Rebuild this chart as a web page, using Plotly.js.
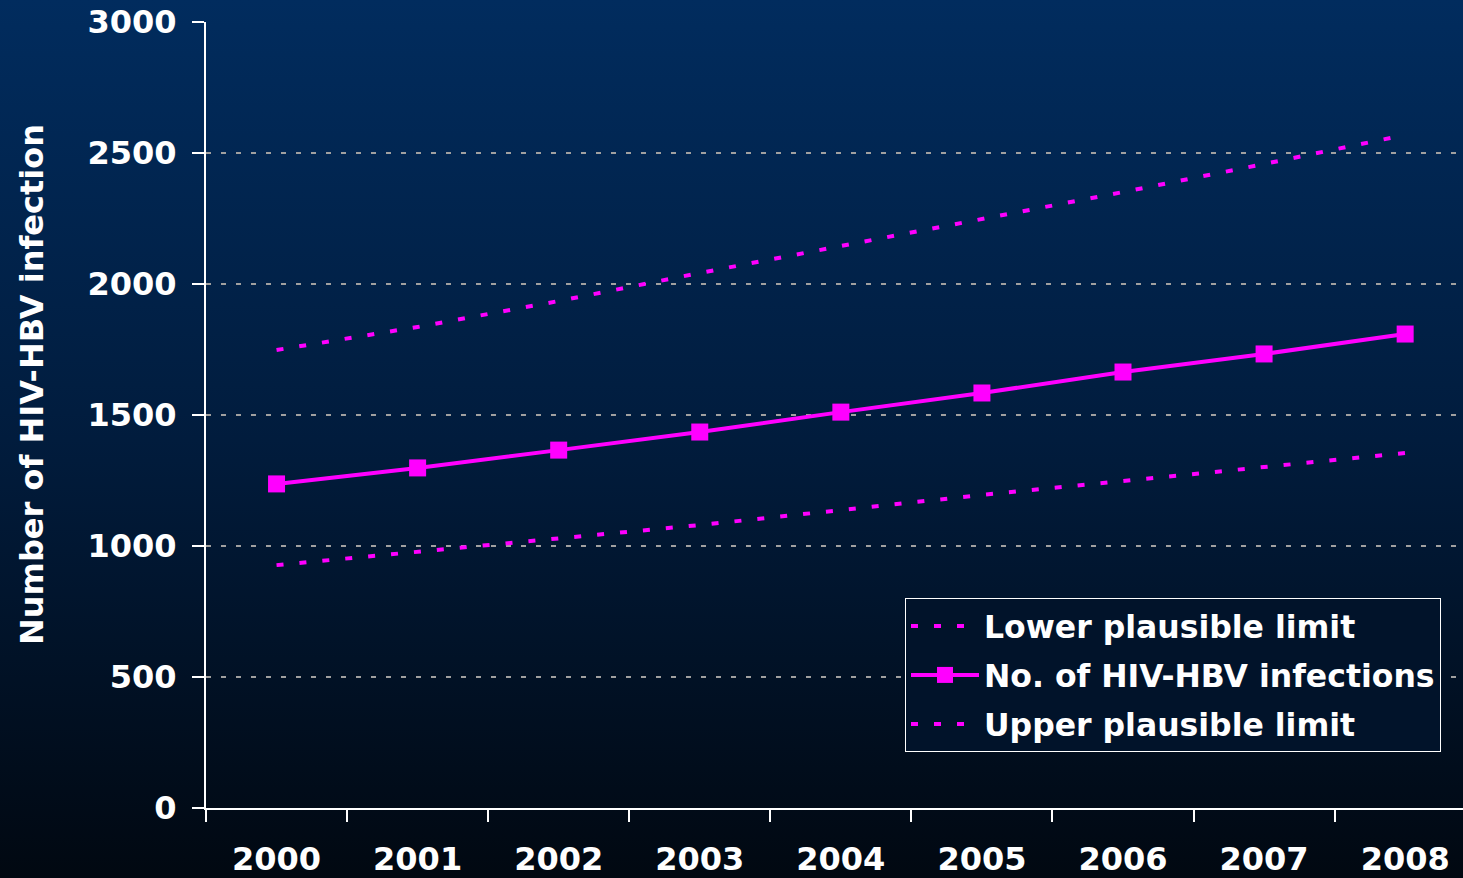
<!DOCTYPE html>
<html>
<head>
<meta charset="utf-8">
<script src="https://cdn.plot.ly/plotly-3.0.1.min.js"></script>
<style>
html,body{margin:0;padding:0;}
#chart{width:1463px;height:878px;background:linear-gradient(to bottom,#012c5e 0%,#011c3d 50%,#010811 100%);}
</style>
</head>
<body>
<div id="chart"></div>
<script>
const years = ["2000","2001","2002","2003","2004","2005","2006","2007","2008"];
const lowerLimit = [927, 977, 1027, 1080, 1137, 1195, 1248, 1302, 1355];
const hivHbv = [1237, 1298, 1366, 1435, 1511, 1584, 1664, 1733, 1809];
const upperLimit = [1748, 1836, 1935, 2042, 2145, 2248, 2351, 2458, 2569];
const yTicks = [0, 500, 1000, 1500, 2000, 2500, 3000];
const yTitle = "Number of HIV-HBV infection";

const magenta = "#ff00ff";
const fontFam = "DejaVu Sans, Verdana, sans-serif";

const traces = [
  {x: years, y: lowerLimit, name: "Lower plausible limit", type: "scatter", mode: "lines", legendgroup: "a",
   line: {color: magenta, width: 4, dash: "7px,16px"}},
  {x: years, y: hivHbv, name: "No. of HIV-HBV infections", type: "scatter", mode: "lines+markers", legendgroup: "b",
   line: {color: magenta, width: 4}, marker: {symbol: "square", size: 17, color: magenta}},
  {x: years, y: upperLimit, name: "Upper plausible limit", type: "scatter", mode: "lines", legendgroup: "c",
   line: {color: magenta, width: 4, dash: "7px,16px"}}
];

const layout = {
  width: 1463, height: 878,
  paper_bgcolor: "rgba(0,0,0,0)", plot_bgcolor: "rgba(0,0,0,0)",
  margin: {l: 206, r: 0, t: 22, b: 70},
  font: {family: fontFam, color: "#ffffff", weight: "bold"},
  showlegend: true,
  legend: {
    x: (905 - 206) / 1257, y: (808 - 598) / 786, xanchor: "left", yanchor: "top",
    bgcolor: "#01132a", bordercolor: "#ffffff", borderwidth: 1,
    font: {family: fontFam, size: 31.5, color: "#ffffff", weight: "bold"},
    itemwidth: 68, tracegroupgap: 5, traceorder: "grouped"
  },
  xaxis: {
    type: "category", range: [-0.5, 8.41],
    tickson: "boundaries", ticks: "outside", ticklen: 12, tickwidth: 2, tickcolor: "#ffffff",
    showline: true, linecolor: "#ffffff", linewidth: 2,
    showgrid: false, zeroline: false,
    tickfont: {family: fontFam, size: 32, color: "#ffffff", weight: "bold"},
    ticklabelstandoff: 22
  },
  yaxis: {
    range: [0, 3000], tickvals: yTicks, ticktext: yTicks.map(String),
    ticks: "outside", ticklen: 12, tickwidth: 2, tickcolor: "#ffffff",
    showline: true, linecolor: "#ffffff", linewidth: 2,
    showgrid: true, gridcolor: "#a0a0a0", gridwidth: 2, griddash: "5px,10px",
    zeroline: false,
    tickfont: {family: fontFam, size: 32, color: "#ffffff", weight: "bold"},
    ticklabelstandoff: 9
  },
  annotations: [{
    text: yTitle, textangle: -90, showarrow: false,
    xref: "paper", yref: "paper",
    x: (32 - 206) / 1257, y: (808 - 385) / 786, xanchor: "center", yanchor: "middle",
    font: {family: fontFam, size: 32, color: "#ffffff", weight: "bold"}
  }]
};

Plotly.newPlot("chart", traces, layout, {displayModeBar: false, staticPlot: true});
</script>
</body>
</html>
